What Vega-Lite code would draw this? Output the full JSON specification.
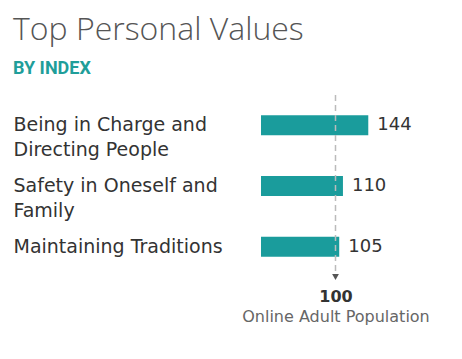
{
  "$schema": "https://vega.github.io/schema/vega-lite/v6.json",
  "width": 149,
  "height": 182,
  "padding": {"left": 13, "top": 14, "right": 5, "bottom": 5},
  "background": "white",
  "config": {"view": {"stroke": null}},
  "title": {
    "text": "Top Personal Values",
    "subtitle": "BY INDEX",
    "anchor": "start",
    "frame": "bounds",
    "font": "Open Sans",
    "fontSize": 32,
    "fontWeight": 300,
    "color": "#555555",
    "subtitleFont": "Roboto",
    "subtitleFontSize": 18,
    "subtitleFontWeight": "bold",
    "subtitleColor": "#1f9e9a",
    "subtitlePadding": 13,
    "offset": 15
  },
  "data": {
    "values": [
      {"label": "Being in Charge and|Directing People", "index": 144},
      {"label": "Safety in Oneself and|Family", "index": 110},
      {"label": "Maintaining Traditions", "index": 105}
    ]
  },
  "layer": [
    {
      "mark": {"type": "bar", "color": "#1a9c9c", "size": 20},
      "encoding": {
        "y": {
          "field": "label", "type": "nominal", "sort": null,
          "scale": {"paddingInner": 0, "paddingOuter": 0},
          "axis": {
            "title": null, "domain": false, "ticks": false, "grid": false,
            "labelAlign": "left", "labelBaseline": "middle", "labelPadding": 248,
            "labelFont": "DejaVu Sans", "labelFontSize": 19, "labelColor": "#333333",
            "labelLimit": 300, "labelLineHeight": 25,
            "labelExpr": "split(datum.value, '|')"
          }
        },
        "x": {
          "field": "index", "type": "quantitative",
          "scale": {"domain": [0, 200]},
          "axis": {
            "values": [100], "domain": false, "ticks": false, "grid": false,
            "labelFont": "DejaVu Sans", "labelFontSize": 16, "labelFontWeight": "bold",
            "labelColor": "#333333", "labelPadding": 11,
            "title": "Online Adult Population", "titleFont": "DejaVu Sans",
            "titleFontSize": 16, "titleFontWeight": "normal", "titleColor": "#666666",
            "titlePadding": 4
          }
        }
      }
    },
    {
      "mark": {"type": "text", "align": "left", "baseline": "middle", "dx": 9, "font": "DejaVu Sans", "fontSize": 18, "color": "#333333"},
      "encoding": {
        "y": {"field": "label", "type": "nominal", "sort": null},
        "x": {"field": "index", "type": "quantitative"},
        "text": {"field": "index", "type": "quantitative"}
      }
    },
    {
      "data": {"values": [{"index": 100}]},
      "mark": {"type": "rule", "strokeDash": [6, 4], "color": "#bbbbbb", "strokeWidth": 1.5},
      "encoding": {"x": {"field": "index", "type": "quantitative"}}
    },
    {
      "data": {"values": [{"index": 100}]},
      "mark": {"type": "point", "shape": "triangle-down", "filled": true, "color": "#555555", "size": 45, "opacity": 1},
      "encoding": {"x": {"field": "index", "type": "quantitative"}, "y": {"value": "height"}}
    }
  ]
}
